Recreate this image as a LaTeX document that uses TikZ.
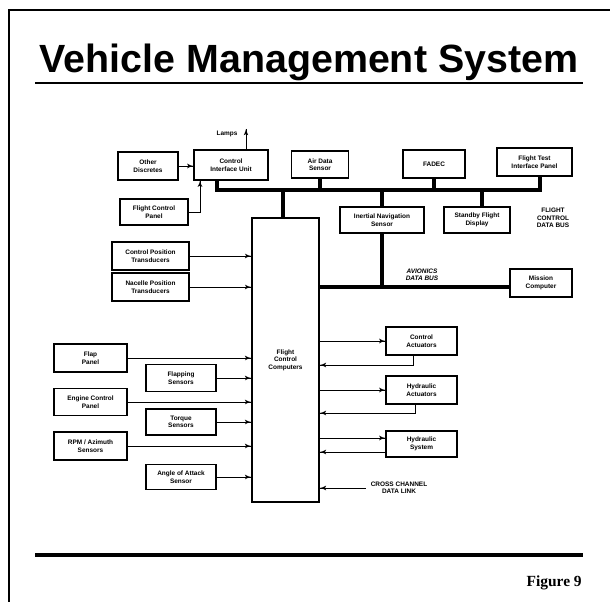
\documentclass[tikz,border=0pt]{standalone}
\usepackage{fontspec}
\setmainfont{Liberation Sans}
\newfontfamily\figfont{Liberation Serif}
\usepackage{tikz}
\usetikzlibrary{arrows}
\usetikzlibrary{decorations.markings}
\usetikzlibrary{positioning}
\newcommand{\boxfont}{\fontsize{4.6}{5.3}\selectfont\bfseries}
\tikzset{feed/.style = {thin, decoration={markings,
                                  mark=at position 1 with {\arrow[scale=1.1]{latex'}}},
                        postaction={decorate}}}
\tikzset{blk/.style = {draw, line width=0.9pt, align=center, font=\boxfont, inner sep=1pt}}
\tikzset{bus/.style = {line width=2.6pt}}
\tikzset{buslabel/.style = {align=center, font=\boxfont, inner sep=0pt}}

\begin{document}
\begin{tikzpicture}[x=0.025cm, y=-0.025cm]
    \useasboundingbox (0, 0) rectangle (610, 602);
    \draw [line width=0.8pt] (9, 602) -- (9, 10) -- (610, 10);

    \node [font=\fontsize{28}{30}\selectfont\bfseries] (title) at (309, 62) {Vehicle Management System};
    \draw [line width=1.8pt] (35, 83) -- (583, 83);
    \draw [line width=2.2pt] (35, 555) -- (583, 555);
    \node [anchor=east, inner sep=0pt, font=\figfont\fontsize{11}{12}\selectfont\bfseries] (fig) at (582, 583) {Figure 9};

    % top row
    \node [blk, minimum width=1.5cm, minimum height=0.7cm] (oth) at (148, 166) {Other\\Discretes};
    \node [blk, minimum width=1.85cm, minimum height=0.75cm] (ciu) at (231, 165) {Control\\Interface Unit};
    \node [blk, minimum width=1.425cm, minimum height=0.675cm] (ads) at (320, 164.5) {Air Data\\Sensor};
    \node [blk, minimum width=1.55cm, minimum height=0.7cm] (fadec) at (434, 164) {FADEC};
    \node [blk, minimum width=1.875cm, minimum height=0.7cm] (ftip) at (534.5, 162) {Flight Test\\Interface Panel};
    \node [blk, minimum width=1.7cm, minimum height=0.65cm] (fcp) at (154, 212) {Flight Control\\Panel};
    \node [blk, minimum width=2.1cm, minimum height=0.65cm] (ins) at (382, 220) {Inertial Navigation\\Sensor};
    \node [blk, minimum width=1.65cm, minimum height=0.65cm] (sfd) at (477, 220) {Standby Flight\\Display};
    \node [buslabel] (fcdb) at (553, 218) {FLIGHT\\CONTROL\\DATA BUS};
    \node [font=\boxfont, inner sep=1pt] (lamps) at (227, 134) {Lamps};

    % flight control computers
    \node [blk, line width=1.2pt, minimum width=1.675cm, minimum height=7.1cm] (fcc) at (285.5, 360) {Flight\\Control\\Computers};

    % inputs
    \node [blk, minimum width=1.925cm, minimum height=0.7cm] (cpt) at (150.5, 256) {Control Position\\Transducers};
    \node [blk, minimum width=1.925cm, minimum height=0.7cm] (npt) at (150.5, 287) {Nacelle Position\\Transducers};
    \node [blk, minimum width=1.825cm, minimum height=0.7cm] (flap) at (90.5, 358) {Flap\\Panel};
    \node [blk, minimum width=1.75cm, minimum height=0.675cm] (flps) at (181, 378) {Flapping\\Sensors};
    \node [blk, minimum width=1.825cm, minimum height=0.675cm] (ecp) at (90.5, 402) {Engine Control\\Panel};
    \node [blk, minimum width=1.75cm, minimum height=0.65cm] (trq) at (181, 422) {Torque\\Sensors};
    \node [blk, minimum width=1.825cm, minimum height=0.7cm] (rpm) at (90.5, 446) {RPM / Azimuth\\Sensors};
    \node [blk, minimum width=1.75cm, minimum height=0.625cm] (aoa) at (181, 477) {Angle of Attack\\Sensor};

    % outputs
    \node [blk, minimum width=1.55cm, minimum height=0.7cm] (mc) at (541, 283) {Mission\\Computer};
    \node [buslabel, font=\boxfont\itshape] (avdb) at (422, 275) {AVIONICS\\DATA BUS};
    \node [blk, minimum width=1.775cm, minimum height=0.7cm] (ca) at (421.5, 341) {Control\\Actuators};
    \node [blk, minimum width=1.775cm, minimum height=0.7cm] (ha) at (421.5, 390) {Hydraulic\\Actuators};
    \node [blk, minimum width=1.775cm, minimum height=0.65cm] (hs) at (421.5, 444) {Hydraulic\\System};
    \node [buslabel] (ccdl) at (399, 488) {CROSS CHANNEL\\DATA LINK};

    % flight control data bus
    \coordinate (busl) at (217, 190);
    \coordinate (busr) at (540, 190);
    \draw [bus] (ciu.south -| busl) -- (busl) -- (busr) -- (ftip.south -| busr);
    \draw [bus] (ads.south) -- (ads.south |- busl);
    \draw [bus] (fadec.south) -- (fadec.south |- busl);
    \draw [bus] (fcc.north -| 283, 0) -- (283, 190);
    \draw [bus] (ins.north) -- (ins.north |- busl);
    \draw [bus] (sfd.north -| 482, 0) -- (482, 190);

    % avionics data bus
    \coordinate (avb) at (382, 287);
    \draw [bus] (fcc.east |- avb) -- (mc.west |- avb);
    \draw [bus] (ins.south) -- (ins.south |- avb);

    % control interface unit
    \coordinate (lampup) at (246, 129);
    \draw [feed] (ciu.north -| lampup) -- (lampup);
    \draw [feed] (oth.east) -- (oth.east -| ciu.west);
    \coordinate (fcpup) at (200, 212);
    \draw [feed] (fcp.east) -- (fcpup) -- (fcpup |- ciu.south);

    % sensors and panels into the computers
    \foreach \src in {cpt, npt, flap, flps, ecp, trq, rpm, aoa}
        \draw [feed] (\src.east) -- (\src.east -| fcc.west);

    % actuators
    \draw [feed] (fcc.east |- ca.west) -- (ca.west);
    \coordinate (caret) at (413, 365);
    \draw [feed] (caret |- ca.south) -- (caret) -- (caret -| fcc.east);
    \draw [feed] (fcc.east |- ha.west) -- (ha.west);
    \coordinate (haret) at (415, 413);
    \draw [feed] (haret |- ha.south) -- (haret) -- (haret -| fcc.east);
    \draw [feed] (fcc.east |- 0, 438) -- (hs.west |- 0, 438);
    \draw [feed] (hs.west |- 0, 452) -- (fcc.east |- 0, 452);
    \draw [feed] (ccdl.west) ++(-5, 0) -- (fcc.east |- ccdl.west);
  \end{tikzpicture}
\end{document}
